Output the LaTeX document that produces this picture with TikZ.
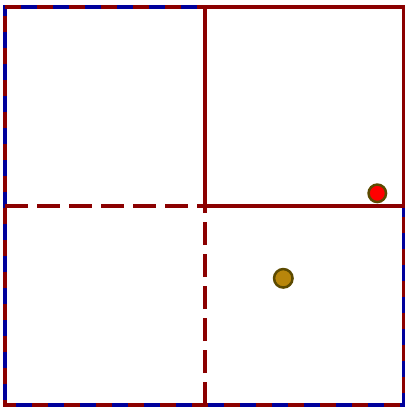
\documentclass[tikz,border=0pt]{standalone}
\definecolor{dred}{HTML}{8B0000}
\definecolor{dblue}{HTML}{00009B}
\definecolor{dotedge}{HTML}{5C4A00}
\definecolor{dotgold}{HTML}{B8860B}
\tikzset{
  frameline/.style={line width=3.8pt},
  innerdash/.style={dred, line width=3.8pt, dash pattern=on 23pt off 9pt},
  dotnode/.style={circle, draw=dotedge, line width=2.5pt, inner sep=0pt}
}
\begin{document}
\begin{tikzpicture}[x=1pt,y=-1pt]
\useasboundingbox (0,0) rectangle (405,407);
\fill[white] (0,0) rectangle (405,407);
\coordinate (TL) at (5,7);
\coordinate (TR) at (403.5,7);
\coordinate (BR) at (403.5,405);
\coordinate (BL) at (5,405);
\coordinate (MT) at (205,7);
\coordinate (ML) at (5,206);
\coordinate (MR) at (403.5,206);
\coordinate (MB) at (205,405);
\coordinate (C) at (205,206);
% outer frame: blue under red dashes
\draw[frameline, dblue] (TL) -- (TR) -- (BR) -- (BL) -- cycle;
\draw[frameline, dred, dash pattern=on 16pt off 16pt] (TL) -- (TR) -- (BR) -- (BL) -- cycle;
% dashed inner lines
\draw[innerdash] (ML) -- (C);
\draw[innerdash] (MB) -- (C);
% solid top-right quadrant
\draw[frameline, dred] (MT) rectangle (MR);
% dots
\node[dotnode, fill=red, minimum size=17.5pt] (reddot) at (377.3,193.3) {};
\node[dotnode, fill=dotgold, minimum size=18.5pt] (golddot) at (283.3,278.3) {};
\end{tikzpicture}
\end{document}
